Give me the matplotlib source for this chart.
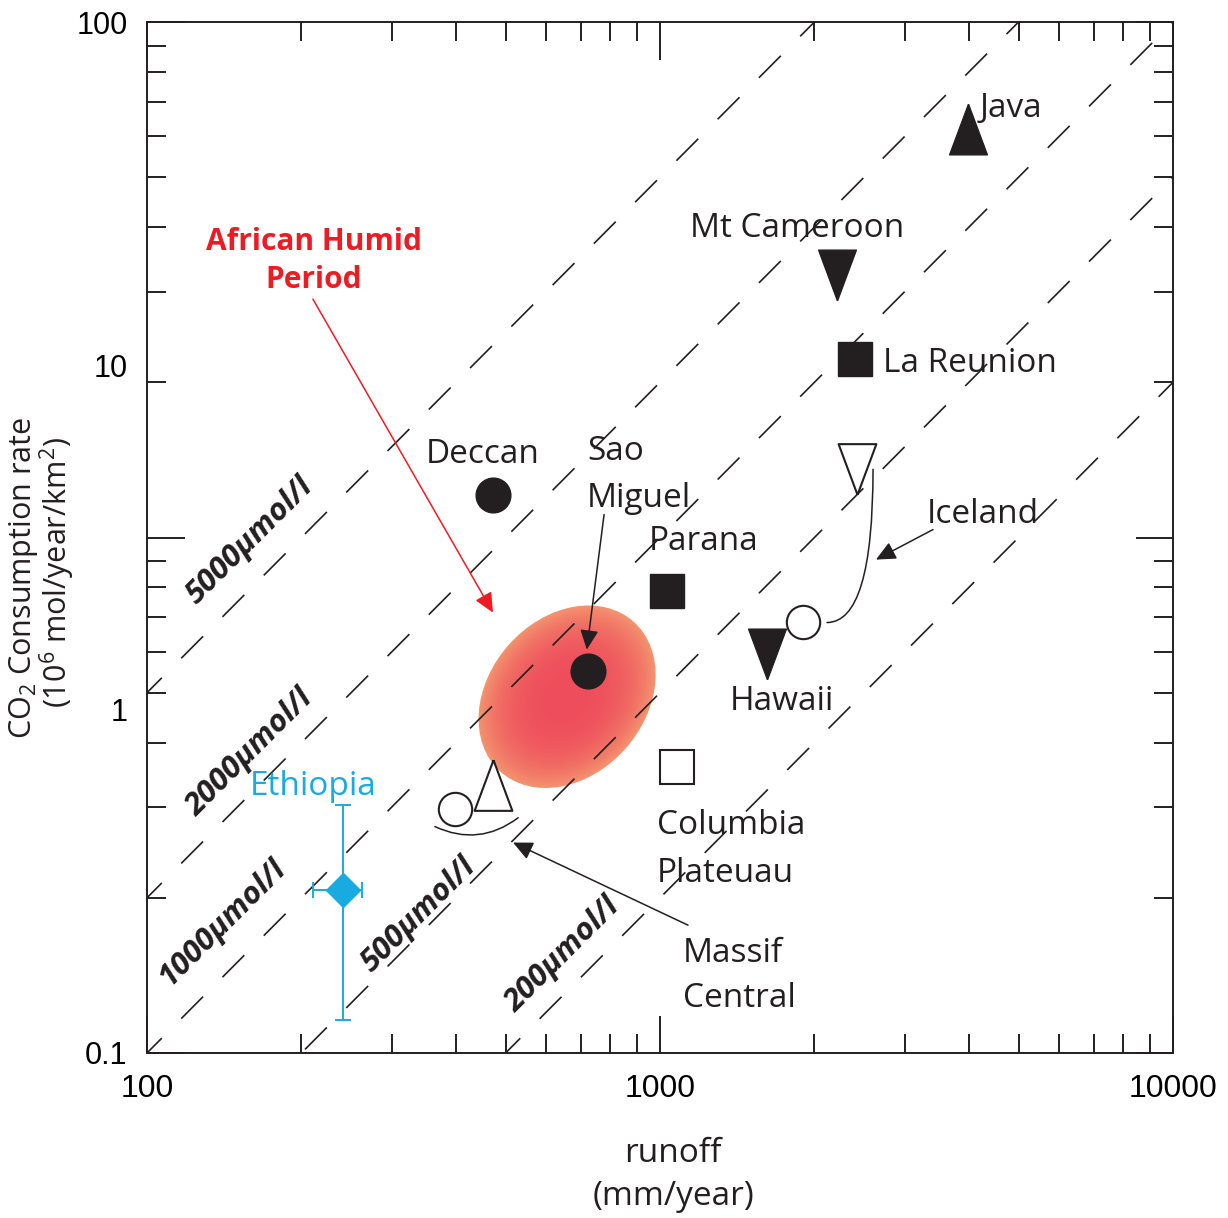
import numpy as np
import matplotlib
matplotlib.use('Agg')
import matplotlib.pyplot as plt
from matplotlib.patches import Ellipse
from matplotlib import colors as mcolors
from matplotlib.ticker import NullLocator, NullFormatter

# values (runoff in mm/year, CO2 in 10^6 mol/year/km2)
site_names = ['Java', 'Mt Cameroon', 'La Reunion', 'Iceland', 'Iceland', 'Hawaii',
              'Deccan', 'Sao Miguel', 'Parana', 'Columbia Plateau',
              'Massif Central', 'Massif Central']
runoff = [3980, 2210, 2400, 2420, 1900, 1620, 473, 724, 1032, 1079, 398, 472]
co2_rate = [6.2, 3.23, 2.22, 1.36, 0.687, 0.595, 1.21, 0.552, 0.789, 0.358, 0.298, 0.331]
site_marker = ['up', 'down', 'square', 'down', 'circle', 'down',
               'circle', 'circle', 'square', 'square', 'circle', 'up']
site_filled = [True, True, True, False, False, True, True, True, True, False, False, False]

iso_conc = [5000, 2000, 1000, 500, 200]          # umol/l
iso_labels = ['5000μmol/l', '2000μmol/l', '1000μmol/l', '500μmol/l', '200μmol/l']

eth_runoff = 241
eth_co2 = 0.207
eth_runoff_range = [211, 262]
eth_co2_range = [0.116, 0.303]

ahp_runoff = 659
ahp_co2 = 0.491

xtick_vals = [100, 1000, 10000]
xtick_text = ['100', '1000', '10000']
ytick_vals = [0.1, 1, 10, 100]
ytick_text = ['0.1', '1', '10', '100']

ink = '#231f20'
red = '#ed1c24'
cyan = '#1aaae2'
sans = ['Open Sans', 'DejaVu Sans']

plt.rcParams['font.family'] = ['Liberation Sans', 'DejaVu Sans']

fig = plt.figure(figsize=(12.28, 12.18), dpi=100)
ax = fig.add_axes([147/1228, 1-1053/1218, 1026/1228, 1031/1218])
axl = ax.twinx()

ax.set_xscale('log')
ax.set_yscale('log')
ax.set_xlim(100, 10000)
ax.set_ylim(0.1, 10)

# iso-concentration lines
xs = np.array([100.0, 10000.0])
for c in iso_conc:
    ax.plot(xs, c*xs*1e-6, color=ink, lw=1.2, ls=(6, (18.6, 16.5)), zorder=2)

# African Humid Period blob
c_in = np.array(mcolors.to_rgb('#ee4d5b'))
c_out = np.array(mcolors.to_rgb('#f3926e'))
cx, cy = (ax.transData + ax.transAxes.inverted()).transform((ahp_runoff, ahp_co2))
for s in np.linspace(1, 0.02, 60):
    col = c_in + (c_out - c_in)*s**3
    ax.add_patch(Ellipse((cx, cy), 0.195*s, 0.152*s, angle=48, transform=ax.transAxes,
                         fc=col, ec='none', zorder=1))

tri_up = [(0, 1), (-0.745, -1), (0.745, -1), (0, 1)]
tri_down = [(0, -1), (-0.745, 1), (0.745, 1), (0, -1)]
shapes = {'up': (tri_up, 36.5), 'down': (tri_down, 36.5), 'circle': ('o', 25), 'square': ('s', 25)}

for x, y, kind, filled in zip(runoff, co2_rate, site_marker, site_filled):
    m, ms = shapes[kind]
    if kind == 'circle' and not filled:
        ms = 24
    ax.plot([x], [y], ls='none', marker=m, ms=ms, mfc=ink if filled else 'white',
            mec=ink, mew=1.0 if filled else 1.5, zorder=4)

ax.errorbar([eth_runoff], [eth_co2],
            xerr=[[eth_runoff - eth_runoff_range[0]], [eth_runoff_range[1] - eth_runoff]],
            yerr=[[eth_co2 - eth_co2_range[0]], [eth_co2_range[1] - eth_co2]],
            fmt='D', ms=17, color=cyan, ecolor=cyan, elinewidth=1.4, capsize=5.5,
            capthick=1.4, zorder=4)

# arrows and brackets
def arrow(tail, head, color=ink):
    ax.annotate('', xy=head, xytext=tail,
                arrowprops=dict(arrowstyle='-|>,head_length=0.6,head_width=0.28', color=color,
                                lw=1.1, shrinkA=0, shrinkB=0, mutation_scale=20), zorder=5)

arrow((210.6, 2.90), (472.6, 0.715), red)
arrow((778, 1.108), (720, 0.606))
arrow((3405, 1.036), (2636, 0.906))
arrow((1134, 0.177), (517, 0.256))
ax.annotate('', xy=(2116, 0.684), xytext=(2602, 1.356),
            arrowprops=dict(arrowstyle='-', color=ink, lw=1.1, shrinkA=0, shrinkB=0,
                            connectionstyle='angle3,angleA=90,angleB=0'))
ax.annotate('', xy=(529, 0.286), xytext=(364, 0.275),
            arrowprops=dict(arrowstyle='-', color=ink, lw=1.1, shrinkA=0, shrinkB=0,
                            connectionstyle='arc3,rad=0.3'))

# labels (axes fraction, baseline)
def label(txt, fx, fy, ha='center', **kw):
    kw.setdefault('color', ink)
    kw.setdefault('fontsize', 24)
    ax.text(fx, fy, txt, transform=ax.transAxes, ha=ha, va='baseline', family=sans, **kw)

label('Java', 0.8119, 0.9079, ha='left')
label('Mt Cameroon', 0.6335, 0.7915)
label('La Reunion', 0.7173, 0.6605, ha='left')
label('Iceland', 0.8148, 0.5141)
label('Hawaii', 0.6189, 0.3327)
label('Deccan', 0.3275, 0.5723)
label('Sao', 0.4288, 0.5752, ha='left')
label('Miguel', 0.4288, 0.5296, ha='left')
label('Parana', 0.5429, 0.4879)
label('Columbia', 0.4971, 0.2124, ha='left')
label('Plateuau', 0.4971, 0.1659, ha='left')
label('Massif', 0.5224, 0.0883, ha='left')
label('Central', 0.5224, 0.0446, ha='left')
label('Ethiopia', 0.1618, 0.2502, color=cyan)
label('African Humid', 0.1628, 0.7789, color=red, fontsize=21.5, weight='bold')
label('Period', 0.1628, 0.7420, color=red, fontsize=21.5, weight='bold')

iso_pos = [(0.1004, 0.4966), (0.1004, 0.2910), (0.0731, 0.1261), (0.2651, 0.1339), (0.4055, 0.0951)]
for txt, (fx, fy) in zip(iso_labels, iso_pos):
    ax.text(fx, fy, txt, transform=ax.transAxes, ha='center', va='center', rotation=45,
            rotation_mode='anchor', fontsize=22.5, weight='bold', style='italic',
            family=sans, color=ink)

# axis titles
ax.text(0.5127, -0.1057, 'runoff', transform=ax.transAxes, ha='center', va='baseline',
        fontsize=24, family=sans, color=ink)
ax.text(0.5127, -0.1474, '(mm/year)', transform=ax.transAxes, ha='center', va='baseline',
        fontsize=24, family=sans, color=ink)
ax.text(-0.1135, 0.4607, 'CO$_{\\mathregular{2}}$ Consumption rate', transform=ax.transAxes,
        ha='center', va='baseline', rotation=90, rotation_mode='anchor',
        fontsize=22, family=sans, color=ink)
ax.text(-0.0775, 0.4656, '(10$^{\\mathregular{6}}$ mol/year/km$^{\\mathregular{2}}$)',
        transform=ax.transAxes, ha='center', va='baseline', rotation=90, rotation_mode='anchor',
        fontsize=22, family=sans, color=ink)

# ticks
ax.set_xticks(xtick_vals, labels=xtick_text)
ax.xaxis.set_minor_formatter(NullFormatter())
ax.yaxis.set_minor_formatter(NullFormatter())
ax.tick_params(which='both', direction='in', top=True, right=True, left=True, bottom=True,
               color=ink, width=1.4)
ax.tick_params(which='major', length=27)
ax.tick_params(which='minor', length=13.5)
ax.tick_params(axis='y', which='both', labelleft=False, labelright=False)
ax.tick_params(axis='x', labelsize=23, pad=15, labelcolor='black')
for sp in ax.spines.values():
    sp.set_linewidth(1.4)
    sp.set_color(ink)

axl.set_yscale('log')
axl.set_ylim(0.1, 100)
axl.yaxis.set_ticks_position('left')
axl.set_yticks(ytick_vals, labels=ytick_text)
axl.yaxis.set_minor_locator(NullLocator())
axl.tick_params(axis='y', length=0, pad=14, labelsize=22, labelleft=True, labelright=False,
                labelcolor='black')
for sp in axl.spines.values():
    sp.set_visible(False)

fig.savefig('out.png', dpi=100)
